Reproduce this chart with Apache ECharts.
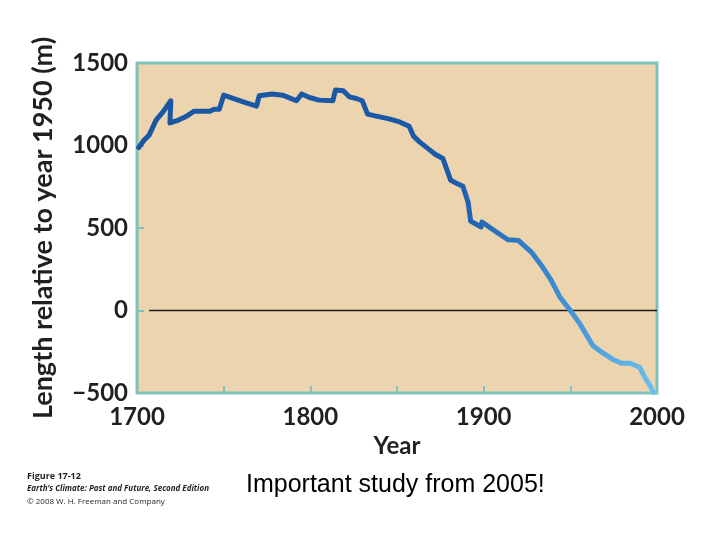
<!DOCTYPE html>
<html>
<head>
<meta charset="utf-8">
<script src="https://cdn.jsdelivr.net/npm/echarts@6/dist/echarts.min.js"></script>
<style>
html,body{margin:0;padding:0;background:#ffffff;}
#chart{width:720px;height:540px;}
</style>
</head>
<body>
<div id="chart"></div>
<script>
// ---- data ----
const years = [1701,1704,1707,1711,1715,1719.5,1719,1724,1728,1733,1742,1744.5,1747.5,1750,1755,1763,1769,1770.5,1778,1784,1792,1795,1799.5,1805,1813,1814.5,1819,1822.5,1826.5,1830,1833,1838,1846,1851.5,1857,1859.5,1863,1869,1872,1876.5,1881,1884,1888,1891,1892.5,1898.5,1899,1906.5,1914,1920,1927.5,1934,1939,1944,1950,1955.5,1959.5,1963,1969,1975,1979.5,1984.5,1990,1993,1996,1998];
const lengths = [988,1032,1063,1154,1204,1271,1137,1154,1174,1208,1208,1220,1220,1305,1287,1259,1239,1301,1312,1305,1271,1312,1291,1275,1271,1336,1332,1295,1285,1271,1190,1178,1160,1143,1117,1057,1022,972,947,921,789,773,753,658,542,506,536,482,429,425,354,263,182,81,0,-81,-152,-213,-259,-299,-320,-320,-344,-405,-455,-496];
const zeroLineYears = [1707, 2000];
const zeroLineValues = [0, 0];
const xTickLabels = ['1700','1800','1900','2000'];
const yTickLabels = ['\u2212500','0','500','1000','1500'];
const yTitle = 'Length relative to year 1950 (m)';
const xTitle = 'Year';
const mainText = 'Important study from 2005!';
const captionLines = ['Figure 17-12','Earth\u2019s Climate: Past and Future, Second Edition','\u00a9 2008 W. H. Freeman and Company'];

const chart = echarts.init(document.getElementById('chart'), null, {renderer:'canvas'});
const teal = '#80c1bc';
const ink = '#231f20';
const lineData = years.map((y,i)=>[y, lengths[i]]);
const zeroData = zeroLineYears.map((y,i)=>[y, zeroLineValues[i]]);

const option = {
  backgroundColor: '#ffffff',
  animation: false,
  grid: {
    left: 137, top: 63, right: 63, bottom: 147,
    show: true, backgroundColor: '#ecd4ae', borderColor: teal, borderWidth: 3,
    outerBoundsMode: 'none', containLabel: false
  },
  xAxis: {
    type: 'value', min: 1700, max: 2000, interval: 50,
    axisLine: {show: false, onZero: false},
    splitLine: {show: false},
    axisTick: {show: true, inside: true, length: 7, lineStyle: {color: teal, width: 2}},
    axisLabel: {
      margin: 12, color: ink, fontFamily: 'Lato', fontWeight: 'bold', fontSize: 24,
      formatter: v => { const s = String(v); return xTickLabels.indexOf(s) >= 0 ? s : ''; }
    },
    name: xTitle, nameLocation: 'middle', nameGap: 41,
    nameTextStyle: {color: ink, fontFamily: 'Lato', fontWeight: 'bold', fontSize: 24}
  },
  yAxis: {
    type: 'value', min: -500, max: 1500, interval: 500,
    axisLine: {show: false, onZero: false},
    splitLine: {show: false},
    axisTick: {show: true, inside: true, length: 7, lineStyle: {color: teal, width: 2}},
    axisLabel: {
      margin: 9, color: ink, fontFamily: 'Lato', fontWeight: 'bold', fontSize: 24,
      formatter: v => { const idx = [-500,0,500,1000,1500].indexOf(v); return idx >= 0 ? yTickLabels[idx] : ''; }
    },
    name: yTitle, nameLocation: 'middle', nameGap: 80, nameRotate: 90,
    nameTextStyle: {color: ink, fontFamily: 'Lato', fontWeight: 'bold', fontSize: 27}
  },
  series: [
    {
      type: 'line', data: zeroData, symbol: 'none', silent: true,
      lineStyle: {color: '#1a1a1a', width: 1.5}, z: 2
    },
    {
      type: 'line', data: lineData, symbol: 'none', silent: true, z: 3,
      lineStyle: {
        width: 5, join: 'round', cap: 'round',
        color: new echarts.graphic.LinearGradient(0, 0, 1, 0, [
          {offset: 0, color: '#1a56a2'},
          {offset: 0.6, color: '#1b5aa8'},
          {offset: 0.78, color: '#3584cc'},
          {offset: 0.9, color: '#55a6df'},
          {offset: 1, color: '#6cbfea'}
        ])
      }
    }
  ],
  graphic: [
    {type: 'text', left: 246, top: 473, style: {text: mainText, font: '25px "Liberation Sans", Arial, sans-serif', fill: '#000000'}},
    {type: 'text', left: 27, top: 472, style: {text: captionLines[0], font: 'bold 9px "Open Sans", sans-serif', fill: ink}},
    {type: 'text', left: 27, top: 485, style: {text: captionLines[1], font: 'italic bold 8px "Open Sans", sans-serif', fill: ink}},
    {type: 'text', left: 27, top: 498, style: {text: captionLines[2], font: '8px "Open Sans", sans-serif', fill: ink}}
  ]
};
chart.setOption(option);
</script>
</body>
</html>
